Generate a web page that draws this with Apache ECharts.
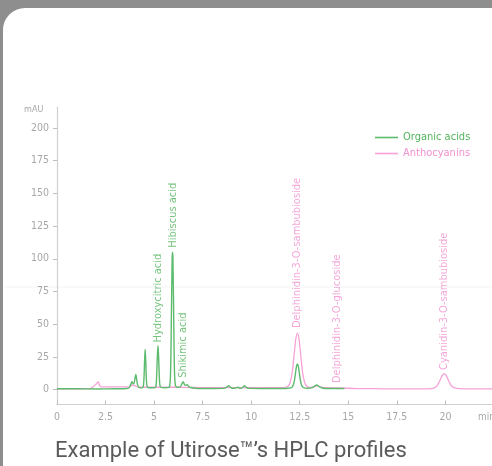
<!DOCTYPE html>
<html>
<head>
<meta charset="utf-8">
<script src="https://cdn.jsdelivr.net/npm/echarts@6/dist/echarts.min.js"></script>
<style>
html,body{margin:0;padding:0;width:492px;height:466px;overflow:hidden;background:#8e8e8e;}
#card{position:absolute;left:3px;top:8px;width:600px;height:600px;background:#fff;border-radius:22px;}
#chart{position:absolute;left:0;top:0;width:492px;height:466px;}
</style>
</head>
<body>
<div id="card"></div>
<div id="chart"></div>
<script>
// ---- data (retention time in min, absorbance in mAU) ----
const xTicks = [0, 2.5, 5, 7.5, 10, 12.5, 15, 17.5, 20];
const yTicks = [0, 25, 50, 75, 100, 125, 150, 175, 200];
const seriesNames = ['Organic acids', 'Anthocyanins'];

const organicAcids = [
  [0,0.6],[1.0,0.6],[2.0,0.5],[3.0,0.6],[3.6,0.8],
  [3.72,1.5],[3.8,4],[3.86,6],[3.92,4.5],[3.97,5],[4.02,9],[4.06,11.5],[4.1,8],[4.16,3],[4.24,1.5],[4.38,1.3],
  [4.44,2],[4.48,9],[4.51,22],[4.54,30.6],[4.57,22],[4.6,9],[4.65,2],[4.8,1.4],[5.0,1.4],
  [5.09,2],[5.13,10],[5.17,26],[5.2,33.5],[5.23,26],[5.27,10],[5.32,2.2],[5.5,1.4],[5.7,1.5],
  [5.8,2.5],[5.85,14],[5.89,55],[5.93,100],[5.95,105],[5.97,100],[6.01,55],[6.05,14],[6.1,3],[6.2,1.8],
  [6.35,2.2],[6.45,5],[6.5,6],[6.56,4],[6.62,3.2],[6.7,3.8],[6.8,2],[7.0,1.2],[7.5,0.8],[8.0,0.8],
  [8.6,0.9],[8.75,2],[8.85,3],[8.95,1.5],[9.1,0.9],[9.25,1.5],[9.32,1.8],[9.4,1],[9.55,1.4],[9.65,3],[9.75,1.8],[9.9,0.9],
  [10.5,0.8],[11.5,0.8],[11.9,1],
  [12.1,1.8],[12.2,5],[12.28,12.5],[12.33,17.5],[12.38,19.5],[12.43,17.5],[12.48,12.5],[12.56,5],[12.66,1.8],
  [12.9,1],[13.15,1.5],[13.3,3],[13.38,3.5],[13.48,2.5],[13.65,1.2],[14.0,0.8],[14.8,0.8]
];

const anthocyanins = [
  [0,0.6],[1.7,0.8],[1.85,2],[2.0,4],[2.12,5.8],[2.2,3],[2.3,2],[3.0,2],[3.7,2],[3.9,3.5],[4.0,3],[4.2,1.8],
  [5,1.8],[6,1.8],[7,1.6],[8,1.5],[9,1.5],[10,1.4],[11,1.4],[11.7,1.5],
  [11.9,2.5],[12.02,6],[12.12,14],[12.22,28],[12.3,39],[12.38,43],[12.46,39],[12.54,28],[12.64,14],[12.74,6],[12.86,2.5],
  [13.05,1.6],[13.3,2.5],[13.42,3],[13.55,2],[13.8,1.4],[14.5,1.2],[15.5,0.8],[17,0.6],[18.5,0.6],
  [19.3,0.8],[19.55,2.5],[19.72,7],[19.85,11],[19.94,12.2],[20.03,11],[20.16,7],[20.33,2.5],[20.6,0.9],[21.2,0.6],[22.4,0.5]
];

// peak annotations: [time, label base value, name]
const acidLabels = [
  [5.2, 36, 'Hydroxycitric acid'],
  [5.97, 108.5, 'Hibiscus acid'],
  [6.48, 9, 'Shikimic acid']
];
const anthoLabels = [
  [12.38, 47, 'Delphinidin-3-O-sambubioside'],
  [14.44, 5, 'Delphinidin-3-O-glucoside'],
  [19.96, 15, 'Cyanidin-3-O-sambubioside']
];

const GREEN = '#5cbb6c';
const PINK = '#f6a2d6';
const GREEN_TXT = '#52b55c';
const PINK_TXT = '#f291cf';
const FONT = '"DejaVu Sans Condensed", "DejaVu Sans", sans-serif';

function labelSeries(arr, color) {
  return {
    type: 'scatter',
    symbolSize: 0,
    silent: true,
    z: 5,
    data: arr.map(d => ({ value: [d[0], d[1]], name: d[2] })),
    label: {
      show: true,
      position: 'top',
      distance: 0,
      rotate: 90,
      align: 'left',
      verticalAlign: 'middle',
      formatter: p => p.name,
      color: color,
      fontSize: 11,
      fontFamily: FONT
    }
  };
}

const chart = echarts.init(document.getElementById('chart'), null, { renderer: 'canvas' });
chart.setOption({
  backgroundColor: 'transparent',
  animation: false,
  grid: { left: 57, right: 0, top: 107, bottom: 61.5, containLabel: false },
  legend: {
    orient: 'vertical',
    left: 370,
    top: 127,
    itemGap: 5,
    itemWidth: 23,
    itemHeight: 1.6,
    icon: 'rect',
    textStyle: { fontSize: 11, fontFamily: FONT },
    data: [
      { name: seriesNames[0], textStyle: { color: GREEN_TXT } },
      { name: seriesNames[1], textStyle: { color: PINK_TXT } }
    ]
  },
  xAxis: {
    type: 'value',
    min: 0,
    max: 22.4,
    axisLine: { onZero: false, lineStyle: { color: '#cfcfcf', width: 1.2 } },
    axisTick: { show: true, inside: true, length: 4, customValues: xTicks, lineStyle: { color: '#bdbdbd' } },
    axisLabel: { customValues: xTicks, color: '#a8a8a8', fontSize: 10.5, fontFamily: FONT, margin: 7,
      formatter: v => String(v) },
    splitLine: { show: false }
  },
  yAxis: {
    type: 'value',
    min: -11.4,
    max: 216,
    axisLine: { show: true, lineStyle: { color: '#cfcfcf', width: 1.2 } },
    axisTick: { show: true, length: 4, customValues: yTicks, lineStyle: { color: '#bdbdbd' } },
    axisLabel: { customValues: yTicks, color: '#a8a8a8', fontSize: 10.5, fontFamily: FONT, margin: 8 },
    splitLine: { show: false }
  },
  graphic: [
    { type: 'line', shape: { x1: 4, y1: 287, x2: 492, y2: 287 }, style: { stroke: '#f3f3f3', lineWidth: 1 }, z: -1 },
    { type: 'text', left: 24, top: 105, style: { text: 'mAU', fill: '#a8a8a8', font: '9px ' + FONT } },
    { type: 'text', left: 478, top: 412, style: { text: 'min', fill: '#a8a8a8', font: '10px ' + FONT } },
    { type: 'text', left: 55, top: 440, style: { text: 'Example of Utirose\u2122\u2019s HPLC profiles', fill: '#5a5a5a', font: '22px Roboto, sans-serif' } }
  ],
  series: [
    {
      name: seriesNames[1], type: 'line', data: anthocyanins, showSymbol: false, symbol: 'none',
      smooth: 0.3, z: 2, lineStyle: { color: PINK, width: 1.3 }, itemStyle: { color: PINK }
    },
    {
      name: seriesNames[0], type: 'line', data: organicAcids, showSymbol: false, symbol: 'none',
      smooth: 0.3, z: 3, lineStyle: { color: GREEN, width: 1.4 }, itemStyle: { color: GREEN }
    },
    labelSeries(acidLabels, GREEN_TXT),
    labelSeries(anthoLabels, PINK_TXT)
  ]
});
</script>
</body>
</html>
